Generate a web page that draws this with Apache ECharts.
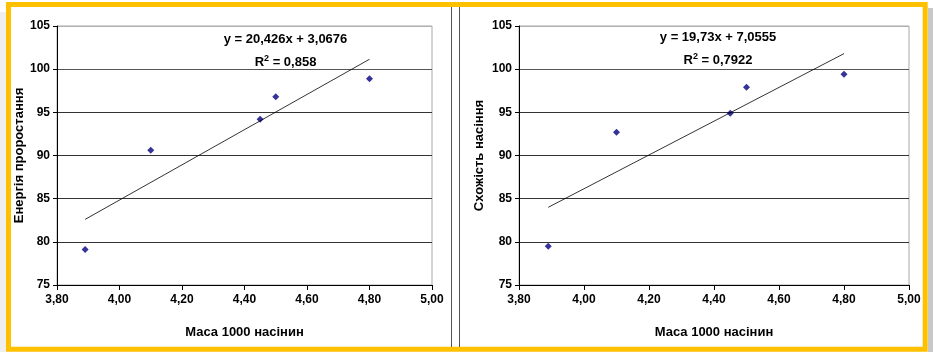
<!DOCTYPE html>
<html><head><meta charset="utf-8">
<script src="https://cdn.jsdelivr.net/npm/echarts@6/dist/echarts.min.js"></script>
<style>html,body{margin:0;padding:0;background:#fff}#c{width:933px;height:352px}</style>
</head><body><div id="c"></div>
<script>
// Data
const mass = [3.89, 4.10, 4.45, 4.50, 4.80];           // Маса 1000 насінин
const energy = [79.1, 90.6, 94.2, 96.8, 98.9];          // Енергія проростання
const germination = [79.5, 92.7, 94.9, 97.9, 99.4];     // Схожість насіння
const trendEnergyEnds = [82.6, 101.15];                 // trend line at first / last mass
const trendGermEnds = [84.0, 101.8];
const xTicks = ['3,80','4,00','4,20','4,40','4,60','4,80','5,00'];
const yTicks = [75, 80, 85, 90, 95, 100, 105];
const eqLeft = ['y = 20,426x + 3,0676', '0,858'];
const eqRight = ['y = 19,73x + 7,0555', '0,7922'];
const xName = 'Маса 1000 насінин';
const yNameLeft = 'Енергія проростання';
const yNameRight = 'Схожість насіння';

const FONT = '"Liberation Sans", Arial, sans-serif';
const chart = echarts.init(document.getElementById('c'), null, {renderer:'canvas'});

function xAxis(gi){
  return {
    type:'value', gridIndex:gi, min:3.8, max:5.0, interval:0.2,
    axisLine:{show:true, lineStyle:{color:'#000', width:1}},
    axisTick:{show:true, length:5, lineStyle:{color:'#000'}},
    axisLabel:{margin:9, color:'#000', fontFamily:FONT, fontWeight:'bold', fontSize:12,
      formatter:v=>xTicks[Math.round((v-3.8)/0.2)]},
    splitLine:{show:false},
    name:xName, nameLocation:'middle', nameGap:41,
    nameTextStyle:{color:'#000', fontFamily:FONT, fontWeight:'bold', fontSize:13}
  };
}
function yAxis(gi, name, gap){
  return {
    type:'value', gridIndex:gi, min:75, max:105, interval:5,
    axisLine:{show:true, lineStyle:{color:'#000', width:1}},
    axisTick:{show:true, length:4, lineStyle:{color:'#000'}},
    axisLabel:{margin:7, color:'#000', fontFamily:FONT, fontWeight:'bold', fontSize:12,
      formatter:v=>String(yTicks[Math.round((v-75)/5)])},
    splitLine:{show:true, lineStyle:{color:['#000','#333','#333','#333','#333','#555','#b0b0b0'], width:1}},
    name:name, nameLocation:'middle', nameGap:gap, nameRotate:90,
    nameTextStyle:{color:'#000', fontFamily:FONT, fontWeight:'bold', fontSize:13}
  };
}
function eqText(cx, y1, y2, eq){
  return [
    {type:'text', style:{text:eq[0], x:cx, y:y1, align:'center', verticalAlign:'middle',
      font:'bold 13px '+FONT, fill:'#000'}},
    {type:'text', style:{text:'{r|R}{s|2}{r| = '+eq[1]+'}', x:cx, y:y2, align:'center', verticalAlign:'middle',
      fill:'#000', rich:{r:{font:'bold 13px '+FONT, fill:'#000'}, s:{font:'bold 9px '+FONT, fill:'#000', verticalAlign:'top', padding:[0,0,7,0]}}}}
  ];
}

const option = {
  backgroundColor:'#fff',
  animation:false,
  grid:[
    {left:57, right:501, top:26, bottom:67, show:true, borderColor:'#a8a8a8', borderWidth:1, backgroundColor:'#fff'},
    {left:519, right:24, top:26, bottom:67, show:true, borderColor:'#a8a8a8', borderWidth:1, backgroundColor:'#fff'}
  ],
  xAxis:[xAxis(0), xAxis(1)],
  yAxis:[yAxis(0, yNameLeft, 31), yAxis(1, yNameRight, 33)],
  series:[
    {type:'line', xAxisIndex:0, yAxisIndex:0, symbol:'none', silent:true,
      lineStyle:{color:'#000', width:0.8},
      data:[[mass[0], trendEnergyEnds[0]], [mass[mass.length-1], trendEnergyEnds[1]]]},
    {type:'scatter', xAxisIndex:0, yAxisIndex:0, symbol:'diamond', symbolSize:7,
      itemStyle:{color:'#000080'}, data:mass.map((m,i)=>[m, energy[i]])},
    {type:'line', xAxisIndex:1, yAxisIndex:1, symbol:'none', silent:true,
      lineStyle:{color:'#000', width:0.8},
      data:[[mass[0], trendGermEnds[0]], [mass[mass.length-1], trendGermEnds[1]]]},
    {type:'scatter', xAxisIndex:1, yAxisIndex:1, symbol:'diamond', symbolSize:7,
      itemStyle:{color:'#000080'}, data:mass.map((m,i)=>[m, germination[i]])}
  ],
  graphic:[
    {type:'rect', z:-1, shape:{x:928, y:8, width:5, height:344}, style:{fill:'#c8c8c8'}},
    {type:'rect', z:-1, shape:{x:0, y:12, width:6, height:340}, style:{fill:'#efefef'}},
    {type:'rect', shape:{x:8.5, y:4.5, width:916.7, height:344.8}, style:{fill:null, stroke:'#FFC000', lineWidth:5}},
    {type:'line', shape:{x1:451.5, y1:7, x2:451.5, y2:347}, style:{stroke:'#555', lineWidth:1}},
    {type:'line', shape:{x1:459.5, y1:7, x2:459.5, y2:347}, style:{stroke:'#555', lineWidth:1}},
    ...eqText(285.5, 39.5, 62, eqLeft),
    ...eqText(718, 37.5, 60, eqRight)
  ]
};
chart.setOption(option);
</script></body></html>
